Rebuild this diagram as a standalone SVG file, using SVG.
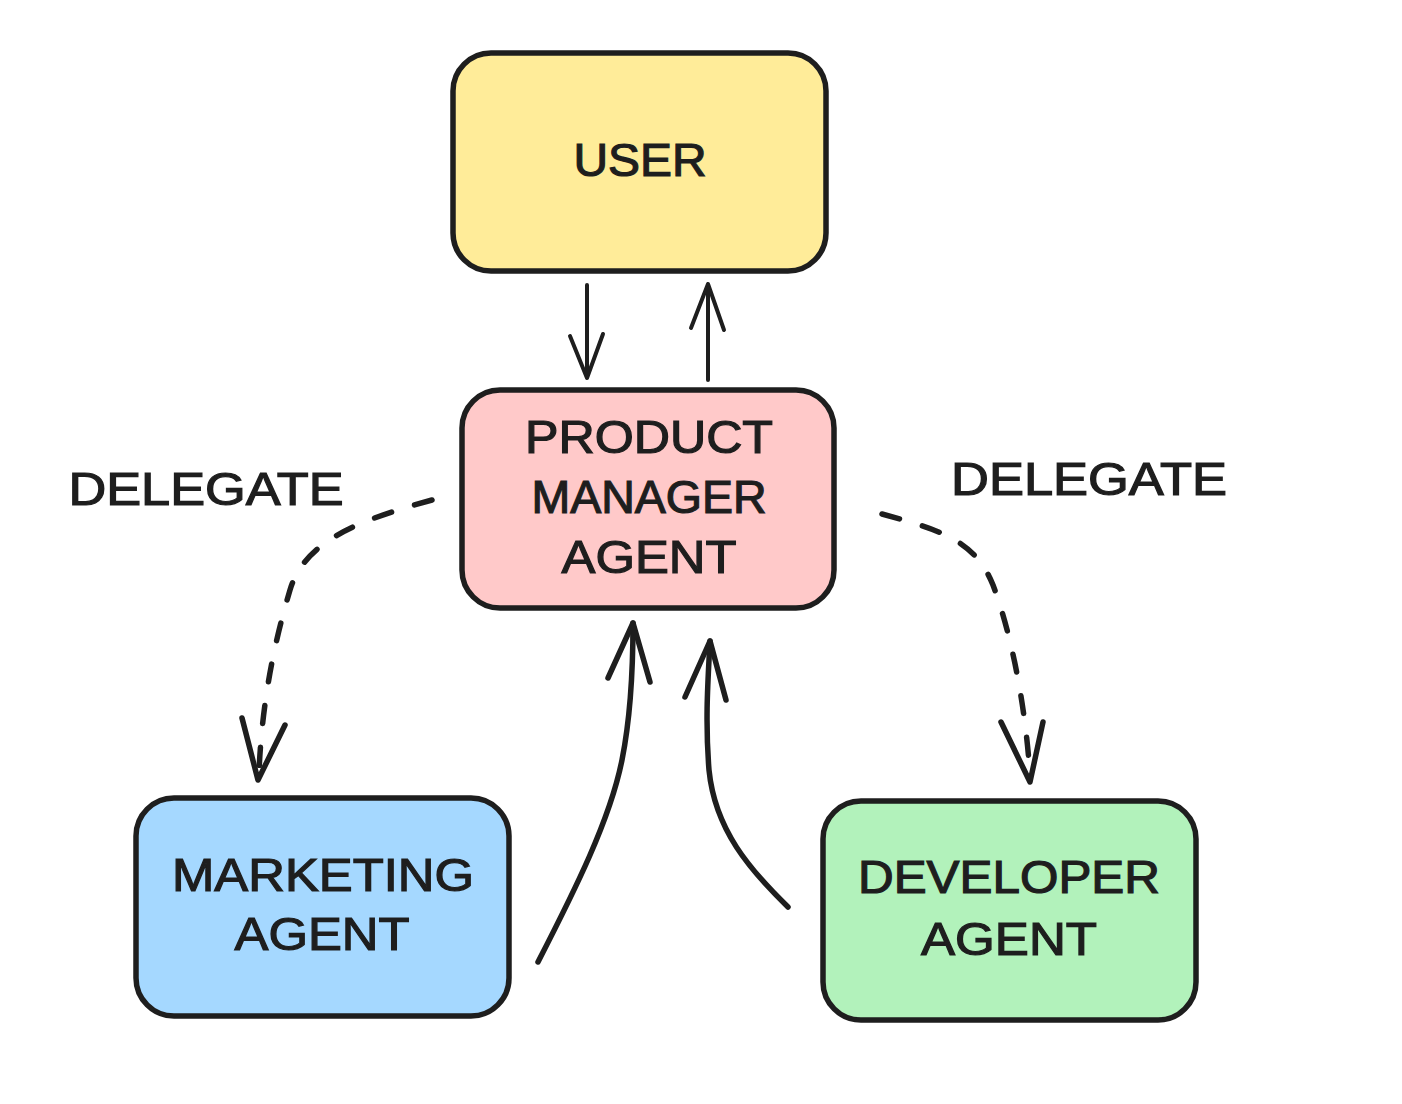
<svg xmlns="http://www.w3.org/2000/svg" width="1402" height="1104" viewBox="0 0 1402 1104">
<style>
.box{stroke:#1e1e1e;stroke-width:5.5;stroke-linejoin:round}
.lbl{font-family:"Liberation Sans",Arial,sans-serif;font-size:46px;fill:#1e1e1e;text-anchor:middle;stroke:#1e1e1e;stroke-width:1.2}
.con{fill:none;stroke:#1e1e1e;stroke-width:4;stroke-linecap:round;stroke-linejoin:round}
.dash{stroke-width:5.5;stroke-dasharray:18 24}
.thick{stroke-width:5.5}
</style>
<rect width="1402" height="1104" fill="#ffffff"/>
<g id="user">
<rect class="box" x="453" y="53" width="373" height="218" rx="38" fill="#ffec99"/>
<text class="lbl" x="640" y="176" textLength="133" lengthAdjust="spacingAndGlyphs">USER</text>
</g>
<g id="pm">
<rect class="box" x="462" y="390" width="372" height="218" rx="38" fill="#ffc9c9"/>
<text class="lbl" x="649" y="453" textLength="248" lengthAdjust="spacingAndGlyphs">PRODUCT</text>
<text class="lbl" x="649" y="513" textLength="235" lengthAdjust="spacingAndGlyphs">MANAGER</text>
<text class="lbl" x="649" y="573" textLength="175" lengthAdjust="spacingAndGlyphs">AGENT</text>
</g>
<g id="marketing">
<rect class="box" x="136" y="798" width="373" height="218" rx="38" fill="#a5d8ff"/>
<text class="lbl" x="323" y="891" textLength="302" lengthAdjust="spacingAndGlyphs">MARKETING</text>
<text class="lbl" x="322" y="950" textLength="175" lengthAdjust="spacingAndGlyphs">AGENT</text>
</g>
<g id="developer">
<rect class="box" x="823" y="801" width="373" height="219" rx="38" fill="#b2f2bb"/>
<text class="lbl" x="1009" y="893" textLength="302" lengthAdjust="spacingAndGlyphs">DEVELOPER</text>
<text class="lbl" x="1009" y="955" textLength="176" lengthAdjust="spacingAndGlyphs">AGENT</text>
</g>
<g id="labels">
<text class="lbl" x="206" y="505" textLength="275" lengthAdjust="spacingAndGlyphs">DELEGATE</text>
<text class="lbl" x="1089" y="495" textLength="276" lengthAdjust="spacingAndGlyphs">DELEGATE</text>
</g>
<g id="connectors">
<path class="con" d="M587,285 L587,378 M570,336 L587,378 L603,334"/>
<path class="con" d="M708,380 L708,284 M691,328 L708,284 L724,330"/>
<path class="con thick" d="M538,962 C575,890 610,820 622,760 C632,710 633,660 633,623"/>
<path class="con thick" d="M608,678 L633,623 L650,682"/>
<path class="con thick" d="M788,907 C750,870 715,830 709,770 C705,720 708,680 710,641"/>
<path class="con thick" d="M685,697 L710,641 L726,700"/>
<path class="con dash" d="M432,500 C360,520 305,540 290,590 C275,640 262,700 259,772"/>
<path class="con thick" d="M242,718 L258,780 L285,725"/>
<path class="con dash" d="M882,514 C940,530 975,540 993,585 C1010,630 1025,700 1030,775"/>
<path class="con thick" d="M1001,722 L1030,782 L1043,722"/>
</g>
</svg>
